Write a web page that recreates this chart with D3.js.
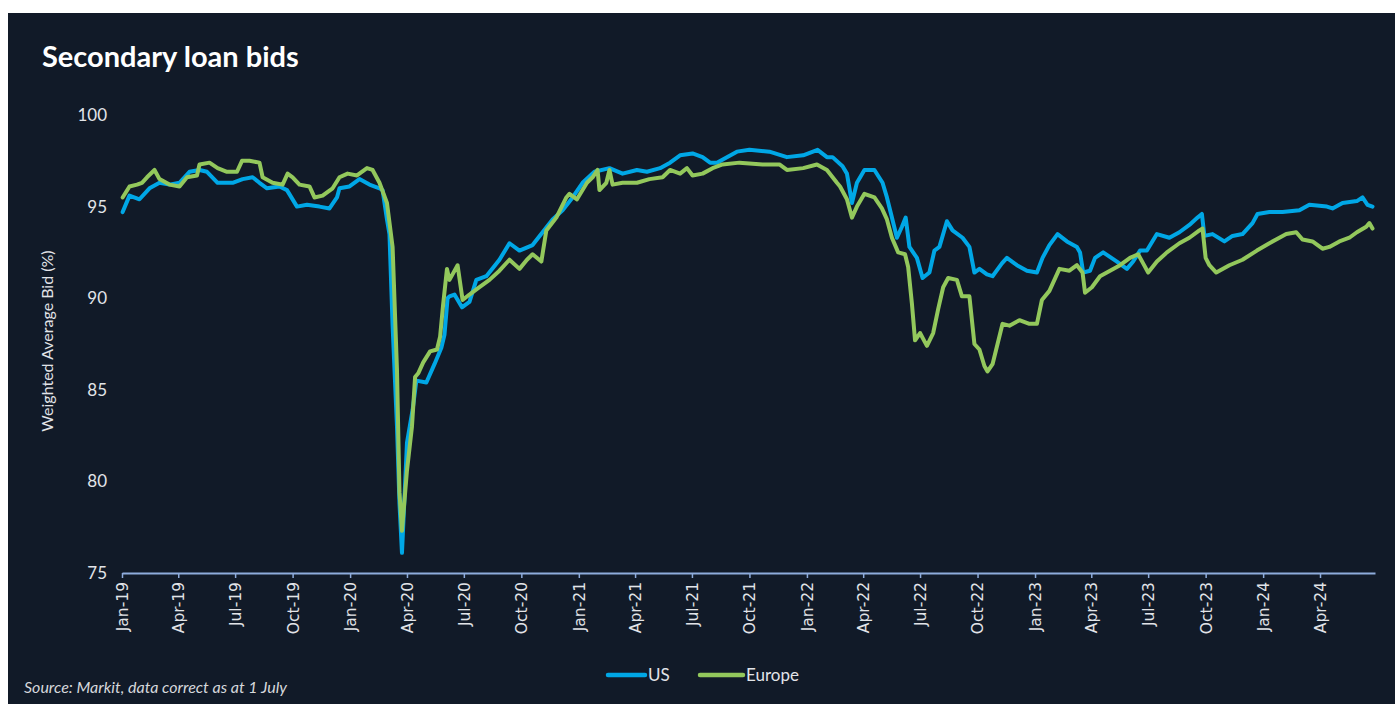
<!DOCTYPE html>
<html>
<head>
<meta charset="utf-8">
<script src="https://cdn.jsdelivr.net/npm/d3@7"></script>
<style>
  html, body { margin: 0; padding: 0; background: #ffffff; }
  svg { display: block; }
</style>
</head>
<body>
<svg id="chart" width="1395" height="704"></svg>
<script>
// Secondary loan bids: weighted average bid (%), US vs Europe
const title = "Secondary loan bids";
const yAxisTitle = "Weighted Average Bid (%)";
const sourceNote = "Source: Markit, data correct as at 1 July";
const seriesNames = ["US", "Europe"];
const yTicks = [75, 80, 85, 90, 95, 100];
const dateDomain = ["2019-01-01", "2024-06-28"];

const usData = [
  ["2019-01-02", 94.7], ["2019-01-13", 95.6], ["2019-01-29", 95.4], ["2019-02-14", 96.0],
  ["2019-03-02", 96.3], ["2019-03-18", 96.2], ["2019-04-03", 96.3], ["2019-04-19", 96.9],
  ["2019-05-05", 97.0], ["2019-05-17", 96.9], ["2019-06-03", 96.3], ["2019-06-27", 96.3],
  ["2019-07-13", 96.5], ["2019-07-29", 96.6], ["2019-08-09", 96.3], ["2019-08-21", 96.0],
  ["2019-09-10", 96.1], ["2019-09-22", 95.9], ["2019-10-08", 95.0], ["2019-10-24", 95.1],
  ["2019-11-13", 95.0], ["2019-11-29", 94.9], ["2019-12-11", 95.5], ["2019-12-15", 96.0],
  ["2019-12-31", 96.1], ["2020-01-16", 96.5], ["2020-02-01", 96.2], ["2020-02-17", 96.0],
  ["2020-02-22", 95.9], ["2020-02-29", 94.3], ["2020-03-04", 93.5], ["2020-03-09", 88.5],
  ["2020-03-16", 83.0], ["2020-03-20", 78.8], ["2020-03-24", 76.1], ["2020-04-01", 82.1],
  ["2020-04-10", 83.9], ["2020-04-16", 85.5], ["2020-05-02", 85.4], ["2020-05-15", 86.4],
  ["2020-05-26", 87.3], ["2020-05-31", 88.0], ["2020-06-05", 90.0], ["2020-06-08", 90.1],
  ["2020-06-16", 90.2], ["2020-06-28", 89.5], ["2020-07-10", 89.8], ["2020-07-21", 91.0],
  ["2020-08-06", 91.2], ["2020-08-27", 92.1], ["2020-09-12", 93.0], ["2020-09-28", 92.6],
  ["2020-10-19", 92.9], ["2020-11-04", 93.6], ["2020-11-20", 94.3], ["2020-12-06", 94.8],
  ["2020-12-22", 95.5], ["2021-01-07", 96.3], ["2021-01-26", 96.9], ["2021-02-19", 97.1],
  ["2021-03-12", 96.8], ["2021-04-04", 97.0], ["2021-04-20", 96.9], ["2021-05-11", 97.1],
  ["2021-05-27", 97.4], ["2021-06-12", 97.8], ["2021-07-02", 97.9], ["2021-07-18", 97.7],
  ["2021-07-30", 97.4], ["2021-08-10", 97.4], ["2021-08-26", 97.7], ["2021-09-11", 98.0],
  ["2021-10-01", 98.1], ["2021-11-02", 98.0], ["2021-11-30", 97.7], ["2021-12-26", 97.8],
  ["2022-01-18", 98.1], ["2022-02-02", 97.7], ["2022-02-11", 97.7], ["2022-02-27", 97.2],
  ["2022-03-06", 96.8], ["2022-03-14", 95.2], ["2022-03-22", 96.3], ["2022-04-03", 97.0],
  ["2022-04-19", 97.0], ["2022-05-02", 96.3], ["2022-05-09", 95.5], ["2022-05-17", 94.4],
  ["2022-05-25", 93.3], ["2022-06-02", 93.9], ["2022-06-08", 94.4], ["2022-06-14", 92.8],
  ["2022-06-26", 92.2], ["2022-07-05", 91.1], ["2022-07-16", 91.4], ["2022-07-24", 92.6],
  ["2022-08-01", 92.8], ["2022-08-13", 94.2], ["2022-08-22", 93.7], ["2022-09-07", 93.3],
  ["2022-09-18", 92.8], ["2022-09-26", 91.4], ["2022-10-04", 91.6], ["2022-10-16", 91.3],
  ["2022-10-25", 91.2], ["2022-11-09", 91.9], ["2022-11-17", 92.2], ["2022-12-03", 91.8],
  ["2022-12-19", 91.5], ["2023-01-04", 91.4], ["2023-01-13", 92.2], ["2023-01-24", 92.9],
  ["2023-02-06", 93.5], ["2023-02-21", 93.1], ["2023-03-09", 92.8], ["2023-03-14", 92.5],
  ["2023-03-19", 91.4], ["2023-03-30", 91.5], ["2023-04-07", 92.2], ["2023-04-20", 92.5],
  ["2023-05-12", 92.0], ["2023-05-28", 91.6], ["2023-06-07", 92.0], ["2023-06-18", 92.6],
  ["2023-06-29", 92.6], ["2023-07-15", 93.5], ["2023-08-04", 93.3], ["2023-08-20", 93.6],
  ["2023-09-05", 94.0], ["2023-09-18", 94.4], ["2023-09-25", 94.6], ["2023-09-29", 93.4],
  ["2023-10-12", 93.5], ["2023-10-31", 93.1], ["2023-11-13", 93.4], ["2023-11-29", 93.5],
  ["2023-12-15", 94.1], ["2023-12-23", 94.6], ["2024-01-11", 94.7], ["2024-02-01", 94.7],
  ["2024-02-28", 94.8], ["2024-03-15", 95.1], ["2024-04-12", 95.0], ["2024-04-21", 94.9],
  ["2024-05-07", 95.2], ["2024-05-30", 95.3], ["2024-06-08", 95.5], ["2024-06-16", 95.1],
  ["2024-06-24", 95.0]
];

const europeData = [
  ["2019-01-02", 95.5], ["2019-01-13", 96.1], ["2019-01-25", 96.2], ["2019-02-02", 96.3],
  ["2019-02-10", 96.6], ["2019-02-22", 97.0], ["2019-03-02", 96.5], ["2019-03-18", 96.2],
  ["2019-04-03", 96.1], ["2019-04-15", 96.6], ["2019-05-01", 96.7], ["2019-05-05", 97.3],
  ["2019-05-21", 97.4], ["2019-06-03", 97.1], ["2019-06-18", 96.9], ["2019-07-04", 96.9],
  ["2019-07-12", 97.5], ["2019-07-24", 97.5], ["2019-08-09", 97.4], ["2019-08-14", 96.6],
  ["2019-08-30", 96.3], ["2019-09-15", 96.2], ["2019-09-23", 96.8], ["2019-10-01", 96.6],
  ["2019-10-12", 96.2], ["2019-10-28", 96.1], ["2019-11-05", 95.5], ["2019-11-18", 95.6],
  ["2019-12-04", 96.0], ["2019-12-15", 96.6], ["2019-12-28", 96.8], ["2020-01-12", 96.7],
  ["2020-01-28", 97.1], ["2020-02-06", 97.0], ["2020-02-17", 96.3], ["2020-02-29", 95.2],
  ["2020-03-09", 92.8], ["2020-03-16", 86.1], ["2020-03-20", 79.4], ["2020-03-24", 77.3],
  ["2020-04-01", 80.6], ["2020-04-09", 83.0], ["2020-04-14", 85.7], ["2020-04-19", 85.9],
  ["2020-04-27", 86.5], ["2020-05-08", 87.1], ["2020-05-19", 87.2], ["2020-05-24", 87.9],
  ["2020-05-29", 89.7], ["2020-06-04", 91.6], ["2020-06-08", 91.0], ["2020-06-21", 91.8],
  ["2020-06-29", 89.9], ["2020-07-10", 90.2], ["2020-07-26", 90.6], ["2020-08-11", 91.0],
  ["2020-08-27", 91.5], ["2020-09-12", 92.1], ["2020-09-28", 91.6], ["2020-10-10", 92.1],
  ["2020-10-19", 92.4], ["2020-11-02", 92.0], ["2020-11-10", 93.7], ["2020-11-26", 94.4],
  ["2020-12-12", 95.5], ["2020-12-17", 95.7], ["2020-12-29", 95.4], ["2021-01-14", 96.3],
  ["2021-01-23", 96.6], ["2021-01-31", 97.0], ["2021-02-03", 95.9], ["2021-02-14", 96.3],
  ["2021-02-19", 97.0], ["2021-02-24", 96.2], ["2021-03-12", 96.3], ["2021-04-04", 96.3],
  ["2021-04-24", 96.5], ["2021-05-15", 96.6], ["2021-05-27", 97.0], ["2021-06-12", 96.8],
  ["2021-06-23", 97.1], ["2021-07-02", 96.7], ["2021-07-18", 96.8], ["2021-08-03", 97.1],
  ["2021-08-19", 97.3], ["2021-09-15", 97.4], ["2021-10-22", 97.3], ["2021-11-18", 97.3],
  ["2021-11-30", 97.0], ["2021-12-26", 97.1], ["2022-01-17", 97.3], ["2022-02-02", 97.0],
  ["2022-02-18", 96.3], ["2022-02-23", 96.1], ["2022-03-06", 95.4], ["2022-03-14", 94.4],
  ["2022-03-22", 95.0], ["2022-04-03", 95.7], ["2022-04-19", 95.5], ["2022-05-01", 94.9],
  ["2022-05-09", 94.3], ["2022-05-17", 93.3], ["2022-05-27", 92.5], ["2022-06-07", 92.4],
  ["2022-06-12", 91.7], ["2022-06-18", 89.7], ["2022-06-23", 87.7], ["2022-07-01", 88.1],
  ["2022-07-12", 87.4], ["2022-07-22", 88.1], ["2022-07-30", 89.4], ["2022-08-07", 90.6],
  ["2022-08-15", 91.1], ["2022-08-29", 91.0], ["2022-09-06", 90.1], ["2022-09-18", 90.1],
  ["2022-09-26", 87.5], ["2022-10-04", 87.2], ["2022-10-12", 86.3], ["2022-10-17", 86.0],
  ["2022-10-25", 86.4], ["2022-11-02", 87.5], ["2022-11-10", 88.6], ["2022-11-21", 88.5],
  ["2022-12-07", 88.8], ["2022-12-23", 88.6], ["2023-01-04", 88.6], ["2023-01-12", 89.9],
  ["2023-01-24", 90.4], ["2023-02-09", 91.6], ["2023-02-25", 91.5], ["2023-03-09", 91.8],
  ["2023-03-18", 91.4], ["2023-03-22", 90.3], ["2023-04-02", 90.6], ["2023-04-15", 91.2],
  ["2023-05-01", 91.5], ["2023-05-17", 91.8], ["2023-06-02", 92.2], ["2023-06-15", 92.4],
  ["2023-06-23", 91.9], ["2023-07-01", 91.4], ["2023-07-15", 92.0], ["2023-07-31", 92.5],
  ["2023-08-20", 93.0], ["2023-09-05", 93.3], ["2023-09-21", 93.7], ["2023-09-26", 93.8],
  ["2023-10-01", 92.2], ["2023-10-07", 91.8], ["2023-10-18", 91.4], ["2023-11-08", 91.8],
  ["2023-11-29", 92.1], ["2023-12-22", 92.6], ["2024-01-11", 93.0], ["2024-01-27", 93.3],
  ["2024-02-07", 93.5], ["2024-02-23", 93.6], ["2024-03-04", 93.2], ["2024-03-20", 93.1],
  ["2024-04-05", 92.7], ["2024-04-16", 92.8], ["2024-05-02", 93.1], ["2024-05-18", 93.3],
  ["2024-05-30", 93.6], ["2024-06-14", 93.9], ["2024-06-19", 94.1], ["2024-06-24", 93.8]
];

const colors = { US: "#00a7e6", Europe: "#93c85c" };

const svg = d3.select("#chart");
const W = 1395, H = 704;

// dark panel
svg.append("rect")
  .attr("x", 8).attr("y", 13)
  .attr("width", W - 8).attr("height", H - 13)
  .attr("fill", "#111a28");

// title
svg.append("text")
  .attr("x", 42).attr("y", 67)
  .attr("fill", "#ffffff")
  .attr("font-family", "Lato, 'Open Sans', sans-serif")
  .attr("font-weight", 700)
  .attr("font-size", 29)
  .text(title);

const parse = d3.timeParse("%Y-%m-%d");
const x = d3.scaleTime()
  .domain(dateDomain.map(parse))
  .range([122, 1375]);
const y = d3.scaleLinear()
  .domain([75, 100])
  .range([573, 115]);

// y axis: labels only
const yAxis = svg.append("g")
  .attr("transform", "translate(122,0)")
  .call(d3.axisLeft(y).tickValues(yTicks).tickSize(0).tickPadding(15));
yAxis.select(".domain").remove();
yAxis.selectAll("text")
  .attr("fill", "#e2e4e8")
  .attr("font-family", "Lato, sans-serif")
  .attr("font-size", 17);

svg.append("text")
  .attr("transform", "translate(53,341) rotate(-90)")
  .attr("text-anchor", "middle")
  .attr("fill", "#e2e4e8")
  .attr("font-family", "Lato, sans-serif")
  .attr("font-size", 16)
  .text(yAxisTitle);

// x axis: quarterly ticks
const xAxis = svg.append("g")
  .attr("transform", "translate(0,573)")
  .call(d3.axisBottom(x)
    .ticks(d3.timeMonth.every(3))
    .tickFormat(d3.timeFormat("%b-%y"))
    .tickSize(5)
    .tickSizeOuter(0));
xAxis.select(".domain").attr("stroke", "#8eacdc").attr("stroke-width", 2);
xAxis.selectAll(".tick line").attr("stroke", "#8eacdc").attr("stroke-width", 1.5);
xAxis.selectAll("text")
  .attr("fill", "#e2e4e8")
  .attr("font-family", "'DejaVu Sans', sans-serif")
  .attr("font-size", 15.5)
  .attr("text-anchor", "end")
  .attr("transform", "rotate(-90)")
  .attr("x", -9).attr("y", 0).attr("dy", "0.35em");

// lines
const line = d3.line()
  .x(d => x(parse(d[0])))
  .y(d => y(d[1]));

[["US", usData], ["Europe", europeData]].forEach(([name, data]) => {
  svg.append("path")
    .datum(data)
    .attr("fill", "none")
    .attr("stroke", colors[name])
    .attr("stroke-width", 4)
    .attr("stroke-linejoin", "round")
    .attr("stroke-linecap", "round")
    .attr("d", line);
});

// legend
const legendItems = [
  { name: seriesNames[0], x0: 608, len: 37 },
  { name: seriesNames[1], x0: 700, len: 43 }
];
legendItems.forEach(item => {
  svg.append("line")
    .attr("x1", item.x0).attr("x2", item.x0 + item.len)
    .attr("y1", 675).attr("y2", 675)
    .attr("stroke", colors[item.name])
    .attr("stroke-width", 4.5)
    .attr("stroke-linecap", "round");
  svg.append("text")
    .attr("x", item.x0 + item.len + 3).attr("y", 681)
    .attr("fill", "#e2e4e8")
    .attr("font-family", "Lato, sans-serif")
    .attr("font-size", 17)
    .text(item.name);
});

// source note
svg.append("text")
  .attr("x", 24).attr("y", 693)
  .attr("fill", "#d6d8dc")
  .attr("font-family", "Lato, sans-serif")
  .attr("font-style", "italic")
  .attr("font-size", 16)
  .text(sourceNote);
</script>
</body>
</html>
